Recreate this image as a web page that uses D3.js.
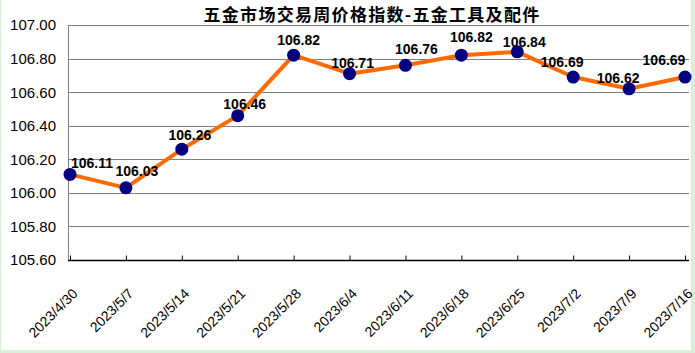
<!DOCTYPE html>
<html>
<head>
<meta charset="utf-8">
<script src="https://cdn.jsdelivr.net/npm/d3@7"></script>
<style>
  body { margin: 0; background: #d8efd8; }
  svg { display: block; }
</style>
</head>
<body>
<div id="chart"></div>
<script>
const dates = ["2023/4/30", "2023/5/7", "2023/5/14", "2023/5/21", "2023/5/28", "2023/6/4",
    "2023/6/11", "2023/6/18", "2023/6/25", "2023/7/2", "2023/7/9", "2023/7/16"];
const values = [106.11, 106.03, 106.26, 106.46, 106.82, 106.71, 106.76, 106.82, 106.84, 106.69, 106.62, 106.69];
const yTicks = [105.6, 105.8, 106.0, 106.2, 106.4, 106.6, 106.8, 107.0];
const title = "五金市场交易周价格指数-五金工具及配件";

// hand-placed label nudges (like the Excel original)
const labelDx = [22, 11, 8, 7, 5, 3, 11, 10, 7, -11, -11, -21];
const labelDy = [6, 12, 9, 7, 10, 6, 11, 13, 5, 10, 6, 12];

const width = 695, height = 353;
const margin = {top: 25, right: 7, bottom: 93, left: 68};

const svg = d3.select("#chart").append("svg")
    .attr("width", width)
    .attr("height", height);

// white chart area on the green sheet background
svg.append("rect")
    .attr("x", 1).attr("y", 0)
    .attr("width", 690).attr("height", 350)
    .attr("fill", "#fff");

const x = d3.scalePoint()
    .domain(dates)
    .range([margin.left + 2, 685]);

const y = d3.scaleLinear()
    .domain([105.6, 107.0])
    .range([height - margin.bottom, margin.top]);

const right = 689;

// gridlines
svg.append("g")
    .selectAll("line")
    .data(yTicks.slice(1))
    .join("line")
    .attr("x1", margin.left)
    .attr("x2", right)
    .attr("y1", d => Math.round(y(d)) + 0.5)
    .attr("y2", d => Math.round(y(d)) + 0.5)
    .attr("stroke", "#808080")
    .attr("stroke-width", 1);

// left axis line
svg.append("line")
    .attr("x1", margin.left + 0.5).attr("x2", margin.left + 0.5)
    .attr("y1", margin.top).attr("y2", y(105.6))
    .attr("stroke", "#808080");

// y labels
svg.append("g")
    .selectAll("text")
    .data(yTicks)
    .join("text")
    .attr("x", 56)
    .attr("y", d => y(d))
    .attr("dy", "0.36em")
    .attr("text-anchor", "end")
    .style("font-family", "Liberation Sans, Arial, sans-serif")
    .style("font-size", "15px")
    .attr("fill", "#000")
    .text(d => d.toFixed(2));

// x axis
const xAxis = svg.append("g")
    .attr("transform", `translate(0,${Math.round(y(105.6)) + 0.5})`)
    .call(d3.axisBottom(x).tickSize(-5).tickSizeOuter(0).tickFormat(""));
xAxis.select(".domain")
    .attr("d", `M${margin.left},0H${right}`)
    .attr("stroke", "#000")
    .attr("stroke-width", 1.5);
xAxis.selectAll(".tick line").attr("stroke", "#000");

svg.append("g")
    .selectAll("text")
    .data(dates)
    .join("text")
    .attr("transform", d => `translate(${x(d) + 5},${y(105.6) + 31}) rotate(-45)`)
    .attr("text-anchor", "end")
    .attr("dy", "0.35em")
    .style("font-family", "Liberation Sans, Arial, sans-serif")
    .style("font-size", "14px")
    .attr("fill", "#000")
    .text(d => d);

// line
const line = d3.line()
    .x((d, i) => x(dates[i]))
    .y(d => y(d));

svg.append("path")
    .datum(values)
    .attr("d", line)
    .attr("fill", "none")
    .attr("stroke", "#ff6a00")
    .attr("stroke-width", 4)
    .attr("stroke-linejoin", "round");

svg.append("g")
    .selectAll("circle")
    .data(values)
    .join("circle")
    .attr("cx", (d, i) => x(dates[i]))
    .attr("cy", d => y(d))
    .attr("r", 6.5)
    .attr("fill", "#000080");

// data labels
svg.append("g")
    .selectAll("text")
    .data(values)
    .join("text")
    .attr("x", (d, i) => x(dates[i]) + labelDx[i])
    .attr("y", (d, i) => y(d) - labelDy[i])
    .attr("text-anchor", "middle")
    .style("font-family", "Liberation Sans, Arial, sans-serif")
    .style("font-size", "14px")
    .style("font-weight", "bold")
    .attr("fill", "#000")
    .text(d => d.toFixed(2));

// title
svg.append("text")
    .attr("x", 372)
    .attr("y", 21)
    .attr("text-anchor", "middle")
    .style("font-family", "Noto Sans CJK SC, sans-serif")
    .style("font-size", "17px")
    .style("font-weight", "bold")
    .style("letter-spacing", "1.3px")
    .attr("fill", "#000")
    .text(title);
</script>
</body>
</html>
